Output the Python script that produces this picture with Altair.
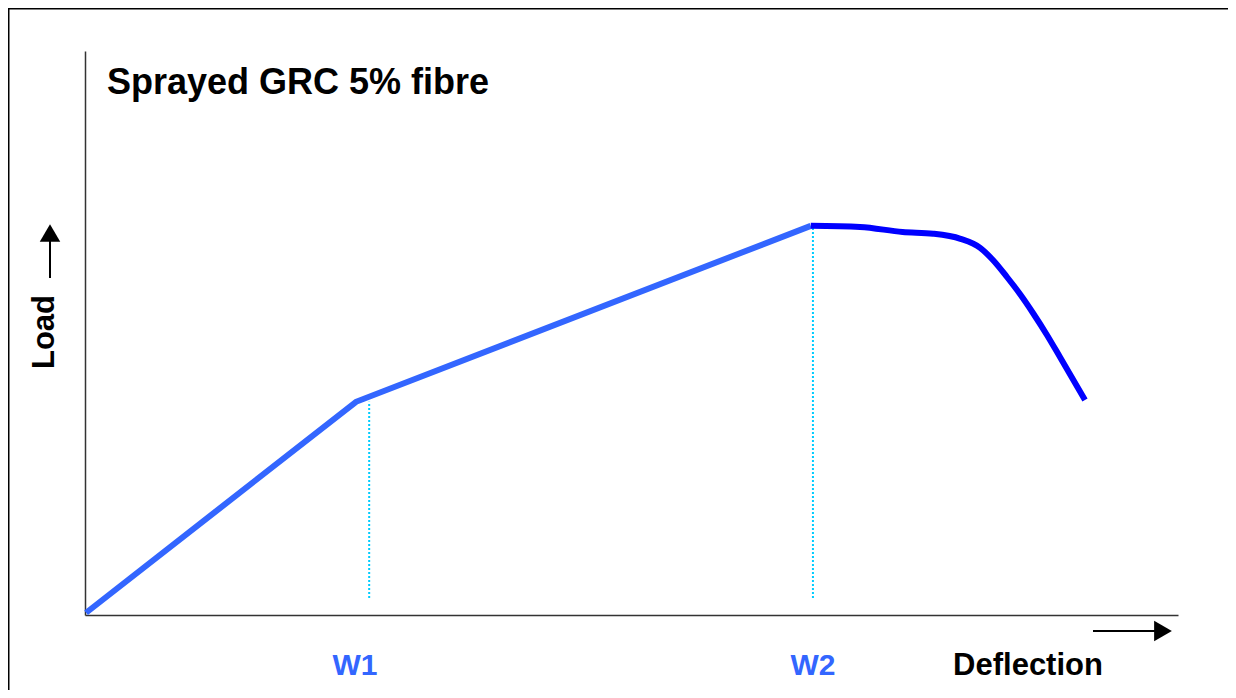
import altair as alt
import pandas as pd

# Data (arbitrary units, axis spans 0..10 on both)
lin_defl = [0.01, 2.48, 6.64]
lin_load = [0.04, 3.78, 6.90]

curve_defl = [6.64, 7.09, 7.48, 7.76, 8.01, 8.19, 8.307, 8.435, 8.554, 8.673, 8.801, 8.920, 9.149]
curve_load = [6.90, 6.88, 6.79, 6.76, 6.67, 6.51, 6.294, 5.993, 5.691, 5.355, 4.965, 4.574, 3.812]

marker_defl = [2.60, 6.66]
marker_top = [3.78, 6.90]
marker_bottom = [0.30, 0.30]

w_labels = ["W1", "W2"]
w_label_x = [2.47, 6.66]

title_text = "Sprayed GRC 5% fibre"
y_text = "Load"
x_text = "Deflection"

FONT = "Liberation Sans"
W, H = 1093, 564

xs = alt.Scale(domain=[0, 10], nice=False, zero=False)
ys = alt.Scale(domain=[0, 10], nice=False, zero=False)
ax = alt.Axis(domain=True, ticks=False, labels=False, grid=False, title=None,
              domainColor="#333333", domainWidth=1.5)

lin_df = pd.DataFrame({"d": lin_defl, "l": lin_load})
cur_df = pd.DataFrame({"d": curve_defl, "l": curve_load})
mk_df = pd.DataFrame({"d": marker_defl, "t": marker_top, "b": marker_bottom})
wl_df = pd.DataFrame({"d": w_label_x, "lab": w_labels})
one = pd.DataFrame({"a": [0]})

lin = alt.Chart(lin_df).mark_line(color="#3366FF", strokeWidth=6, strokeCap="butt").encode(
    x=alt.X("d:Q", scale=xs, axis=ax),
    y=alt.Y("l:Q", scale=ys, axis=ax),
    order="d:Q",
)
cur = alt.Chart(cur_df).mark_line(color="#0000FF", strokeWidth=6, strokeCap="butt",
                                  interpolate="monotone").encode(
    x=alt.X("d:Q", scale=xs), y=alt.Y("l:Q", scale=ys), order="d:Q")

markers = alt.Chart(mk_df).mark_rule(color="#00CCFF", strokeWidth=2, strokeDash=[2, 2]).encode(
    x=alt.X("d:Q", scale=xs), y=alt.Y("b:Q", scale=ys), y2="t:Q")

wlabels = alt.Chart(wl_df).mark_text(font=FONT, fontSize=30, fontWeight="bold", color="#3366FF",
                                     align="center", baseline="alphabetic").encode(
    x=alt.X("d:Q", scale=xs), y=alt.value(624), text="lab:N")

title = alt.Chart(one).mark_text(font=FONT, fontSize=36, fontWeight="bold", color="black",
                                 align="left", baseline="alphabetic", text=title_text).encode(
    x=alt.value(22), y=alt.value(43))

ytitle = alt.Chart(one).mark_text(font=FONT, fontSize=31, fontWeight="bold", color="black",
                                  align="center", baseline="middle", angle=270, text=y_text).encode(
    x=alt.value(-40), y=alt.value(281))

xtitle = alt.Chart(one).mark_text(font=FONT, fontSize=31, fontWeight="bold", color="black",
                                  align="center", baseline="alphabetic", text=x_text).encode(
    x=alt.value(943), y=alt.value(624))

# arrows
yarrow_line = alt.Chart(one).mark_rule(color="black", strokeWidth=2).encode(
    x=alt.value(-35), y=alt.value(190), y2=alt.value(227))
yarrow_head = alt.Chart(one).mark_point(shape="triangle-up", filled=True, color="black",
                                        size=420, opacity=1).encode(
    x=alt.value(-35), y=alt.value(182))
xarrow_line = alt.Chart(one).mark_rule(color="black", strokeWidth=2).encode(
    x=alt.value(1008), x2=alt.value(1070), y=alt.value(580))
xarrow_head = alt.Chart(one).mark_point(shape="triangle-right", filled=True, color="black",
                                        size=420, opacity=1).encode(
    x=alt.value(1078), y=alt.value(580))

# outer frame
frame_top = alt.Chart(one).mark_rule(color="black", strokeWidth=3).encode(
    x=alt.value(-77), x2=alt.value(1145), y=alt.value(-43))
frame_left = alt.Chart(one).mark_rule(color="black", strokeWidth=3).encode(
    x=alt.value(-77), y=alt.value(-43), y2=alt.value(650))
frame_right = alt.Chart(one).mark_rule(color="black", strokeWidth=2).encode(
    x=alt.value(1145), y=alt.value(-43), y2=alt.value(570))

chart = alt.layer(
    frame_top, frame_left, frame_right,
    markers, lin, cur, wlabels, title, ytitle, xtitle,
    yarrow_line, yarrow_head, xarrow_line, xarrow_head,
).properties(
    width=W, height=H,
    autosize=alt.AutoSizeParams(type="none"),
    padding={"left": 77, "top": 43, "right": 50, "bottom": 75},
    background="white",
).configure_view(stroke=None)

chart.save("out.html", embed_options={"renderer": "svg", "actions": False})
